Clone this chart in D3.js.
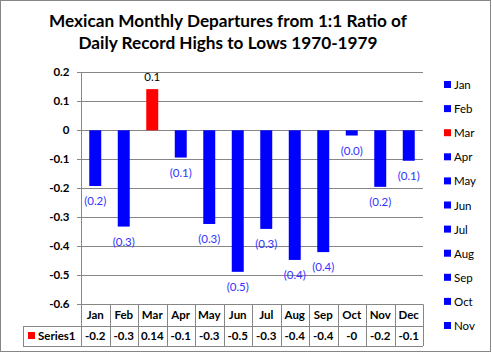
<!DOCTYPE html>
<html><head><meta charset="utf-8">
<script src="https://cdn.jsdelivr.net/npm/d3@7"></script>
<style>
html,body{margin:0;padding:0;background:#fff;}
svg{display:block;font-family:Lato,"Open Sans",sans-serif;}
</style></head>
<body>
<svg id="chart" width="492" height="353"></svg>
<script>
const months = ["Jan","Feb","Mar","Apr","May","Jun","Jul","Aug","Sep","Oct","Nov","Dec"];
const values = [-0.192,-0.332,0.142,-0.094,-0.323,-0.488,-0.34,-0.447,-0.42,-0.018,-0.195,-0.105];
const tableLabels = ["-0.2","-0.3","0.14","-0.1","-0.3","-0.5","-0.3","-0.4","-0.4","-0","-0.2","-0.1"];
const barColors = ["#0000ff","#0000ff","#ff0000","#0000ff","#0000ff","#0000ff","#0000ff","#0000ff","#0000ff","#0000ff","#0000ff","#0000ff"];
const legendItems = ["Jan","Feb","Mar","Apr","May","Jun","Jul","Aug","Sep","Oct","Nov"];
const yTicks = [0.2,0.1,0,-0.1,-0.2,-0.3,-0.4,-0.5,-0.6];
const titleLines = ["Mexican Monthly Departures from 1:1 Ratio of","Daily Record Highs to Lows 1970-1979"];
const seriesName = "Series1";

(function(){
const svg = d3.select("#chart");
const grid = "#868686";
const pLeft = 81, pRight = 423, pTop = 72.3, pBottom = 304.3;
const row1 = 325.5, row2 = 346;

// border
svg.append("rect").attr("x",0.5).attr("y",0.5).attr("width",490).attr("height",351)
  .attr("fill","#fff").attr("stroke",grid).attr("stroke-width",1);

// title
const title = svg.append("g");
titleLines.forEach((t,i)=>{
  title.append("text").attr("x",228).attr("y",27+i*22).attr("text-anchor","middle")
    .attr("font-size",17.2).attr("font-weight","bold").attr("fill","#000").text(t);
});

const x = d3.scaleBand().domain(months).range([pLeft,pRight]).paddingInner(0.58).paddingOuter(0.29);
const y = d3.scaleLinear().domain([-0.6,0.2]).range([pBottom,pTop]);

// gridlines
svg.append("g").selectAll("line").data(yTicks).join("line")
  .attr("x1",pLeft-4).attr("x2",pRight).attr("y1",d=>Math.round(y(d))+0.5).attr("y2",d=>Math.round(y(d))+0.5)
  .attr("stroke",grid).attr("stroke-width",1);

// y axis
const yAxis = d3.axisLeft(y).tickValues(yTicks).tickSize(4).tickPadding(8).tickFormat(d=>String(+d.toFixed(1)));
const ya = svg.append("g").attr("transform",`translate(${pLeft+0.5},0)`).call(yAxis);
ya.select(".domain").remove();
ya.selectAll(".tick line").remove();
ya.selectAll("text").attr("font-size",11.5).attr("font-weight","bold").attr("fill","#000")
  .attr("font-family","Lato,sans-serif").attr("x",-12);
svg.append("line").attr("x1",pLeft+0.5).attr("x2",pLeft+0.5).attr("y1",pTop).attr("y2",row2).attr("stroke",grid);

// bars
svg.append("g").selectAll("rect").data(values).join("rect")
  .attr("x",(d,i)=>x(months[i])).attr("width",x.bandwidth())
  .attr("y",d=>y(Math.max(0,d))).attr("height",d=>Math.abs(y(d)-y(0)))
  .attr("fill",(d,i)=>barColors[i]);

// data labels
const fmt = d3.format(".1f");
svg.append("g").selectAll("text").data(values).join("text")
  .attr("x",(d,i)=>x(months[i])+x.bandwidth()/2)
  .attr("y",d=> d<0 ? y(d)+19 : y(d)-8)
  .attr("text-anchor","middle").attr("font-size",11.5)
  .attr("fill",d=>d<0?"#3333ff":"#000")
  .text(d=> d<0 ? `(${fmt(Math.abs(d))})` : fmt(d));

// data table
const tbl = svg.append("g");
const step = x.step();
months.forEach((m,i)=>{
  const x0 = pLeft + i*step;
  tbl.append("line").attr("x1",Math.round(x0+step)+0.5).attr("x2",Math.round(x0+step)+0.5)
    .attr("y1",pBottom).attr("y2",row2).attr("stroke",grid);
  tbl.append("text").attr("x",x0+step/2).attr("y",319).attr("text-anchor","middle")
    .attr("font-size",11.5).attr("font-weight","bold").text(m);
  tbl.append("text").attr("x",x0+step/2).attr("y",340).attr("text-anchor","middle")
    .attr("font-size",11.5).attr("font-weight","bold").text(tableLabels[i]);
});
tbl.append("line").attr("x1",23).attr("x2",pRight).attr("y1",Math.round(row1)+0.5).attr("y2",Math.round(row1)+0.5).attr("stroke",grid);
tbl.append("line").attr("x1",23).attr("x2",pRight).attr("y1",row2+0.5).attr("y2",row2+0.5).attr("stroke",grid);
tbl.append("line").attr("x1",23.5).attr("x2",23.5).attr("y1",Math.round(row1)).attr("y2",row2).attr("stroke",grid);
tbl.append("rect").attr("x",28).attr("y",332).attr("width",7).attr("height",7).attr("fill","#ff0000");
tbl.append("text").attr("x",38).attr("y",340).attr("font-size",11.5).attr("font-weight","bold").text(seriesName);

// legend
const lg = svg.append("g");
legendItems.forEach((m,i)=>{
  const cy = 85 + i*24.1;
  lg.append("rect").attr("x",444).attr("y",cy-4).attr("width",7).attr("height",7)
    .attr("fill",barColors[months.indexOf(m)]);
  lg.append("text").attr("x",454).attr("y",cy+4).attr("font-size",11.5).attr("fill","#000").text(m);
});
})();
</script>
</body></html>
